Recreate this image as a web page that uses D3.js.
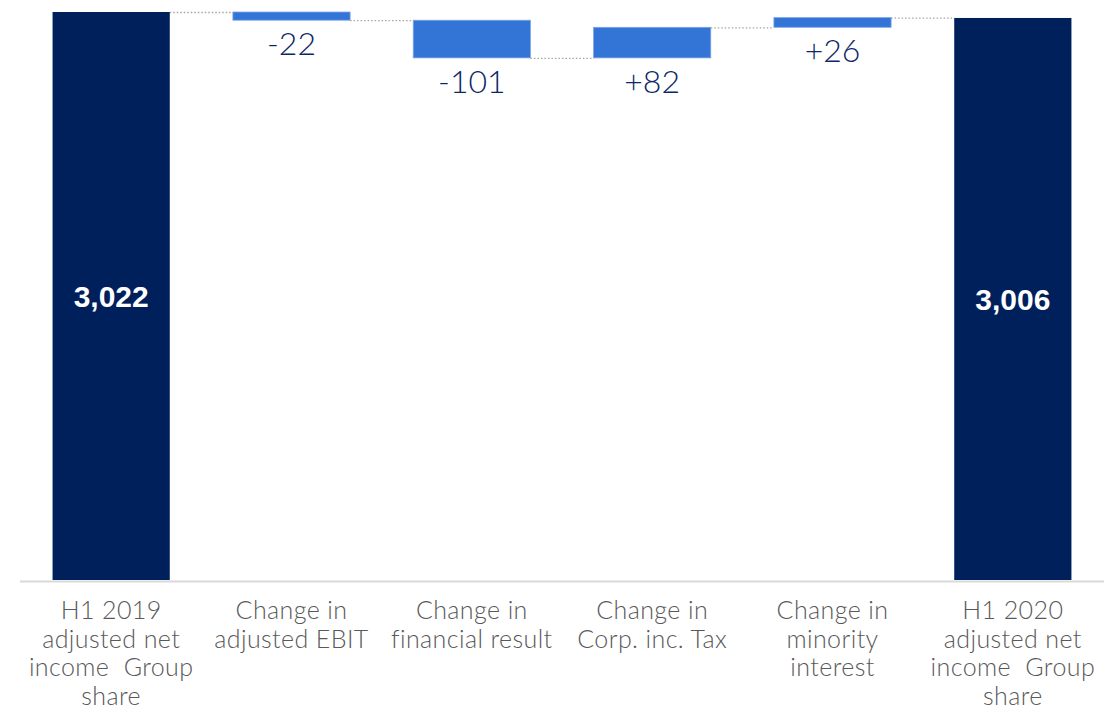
<!DOCTYPE html>
<html>
<head>
<meta charset="utf-8">
<script src="https://cdn.jsdelivr.net/npm/d3@7"></script>
<style>
  body { margin: 0; background: #fff; }
  svg { display: block; }
</style>
</head>
<body>
<svg id="chart" width="1104" height="711"></svg>
<script>
// waterfall data
var categories = [
  ['H1 2019', 'adjusted net', 'income  Group', 'share'],
  ['Change in', 'adjusted EBIT'],
  ['Change in', 'financial result'],
  ['Change in', 'Corp. inc. Tax'],
  ['Change in', 'minority', 'interest'],
  ['H1 2020', 'adjusted net', 'income  Group', 'share']
];
var values = [3022, -22, -101, 82, 26, 3006];
var kinds = ['total', 'delta', 'delta', 'delta', 'delta', 'total'];
var valueLabels = ['3,022', '-22', '-101', '+82', '+26', '3,006'];
var yMin = 1500;

var width = 1104, baseY = 580, topY = 12;

// running totals
var run = 0;
var bars = values.map(function(v, i) {
  var s, e;
  if (kinds[i] == 'total') { s = yMin; e = v; run = v; }
  else { s = run; e = run + v; run = e; }
  return { i: i, start: s, end: e, kind: kinds[i], label: valueLabels[i], cat: categories[i] };
});

var x = d3.scaleBand()
    .domain(d3.range(values.length))
    .range([21, 1103])
    .paddingInner(0.35)
    .paddingOuter(0.175);

var y = d3.scaleLinear()
    .domain([yMin, d3.max(bars, function(d) { return Math.max(d.start, d.end); })])
    .range([baseY, topY]);

var svg = d3.select('#chart');

// connectors
var links = bars.slice(0, -1).map(function(d, i) {
  return { x1: x(i) + x.bandwidth(), x2: x(i + 1), v: d.end };
});
svg.selectAll('line.link')
    .data(links)
  .enter().append('line')
    .attr('class', 'link')
    .attr('x1', function(d) { return d.x1; })
    .attr('x2', function(d) { return d.x2; })
    .attr('y1', function(d) { return y(d.v) + 0.5; })
    .attr('y2', function(d) { return y(d.v) + 0.5; })
    .attr('stroke', '#a6a6a6')
    .attr('stroke-width', 1.3)
    .attr('stroke-dasharray', '1.5,2');

// bars
svg.selectAll('rect.bar')
    .data(bars)
  .enter().append('rect')
    .attr('class', 'bar')
    .attr('x', function(d) { return x(d.i); })
    .attr('width', x.bandwidth())
    .attr('y', function(d) { return y(Math.max(d.start, d.end)); })
    .attr('height', function(d) { return Math.abs(y(d.start) - y(d.end)); })
    .attr('fill', function(d) { return d.kind == 'total' ? '#00205c' : '#3375d7'; })
    .attr('stroke', function(d) { return d.kind == 'total' ? 'none' : '#7ea6e6'; })
    .attr('stroke-width', 0.8);

// baseline
svg.append('line')
    .attr('x1', 20).attr('x2', width)
    .attr('y1', baseY + 1.5).attr('y2', baseY + 1.5)
    .attr('stroke', '#d9d9d9')
    .attr('stroke-width', 2);

// value labels
svg.selectAll('text.val')
    .data(bars)
  .enter().append('text')
    .attr('class', 'val')
    .attr('x', function(d) { return x(d.i) + x.bandwidth() / 2; })
    .attr('y', function(d) {
      if (d.kind == 'total') return (y(d.start) + y(d.end)) / 2 + 11;
      return y(Math.min(d.start, d.end)) + 35;
    })
    .attr('text-anchor', 'middle')
    .attr('font-family', function(d) { return d.kind == 'total' ? 'Liberation Sans, Arial, sans-serif' : 'Lato, sans-serif'; })
    .attr('font-weight', function(d) { return d.kind == 'total' ? 'bold' : 300; })
    .attr('font-size', function(d) { return d.kind == 'total' ? 30 : 32; })
    .attr('fill', function(d) { return d.kind == 'total' ? '#ffffff' : '#0b2766'; })
    .text(function(d) { return d.label; });

// category labels
var cat = svg.selectAll('text.cat')
    .data(bars)
  .enter().append('text')
    .attr('class', 'cat')
    .attr('text-anchor', 'middle')
    .attr('font-family', 'Lato, sans-serif')
    .attr('font-weight', 300)
    .attr('font-size', 25)
    .attr('letter-spacing', 0.4)
    .attr('fill', '#595959');

cat.selectAll('tspan')
    .data(function(d) { return d.cat.map(function(t, k) { return { t: t, k: k, cx: x(d.i) + x.bandwidth() / 2 }; }); })
  .enter().append('tspan')
    .attr('x', function(d) { return d.cx; })
    .attr('y', function(d) { return 619 + d.k * 28.6; })
    .style('white-space', 'pre')
    .text(function(d) { return d.t; });
</script>
</body>
</html>
